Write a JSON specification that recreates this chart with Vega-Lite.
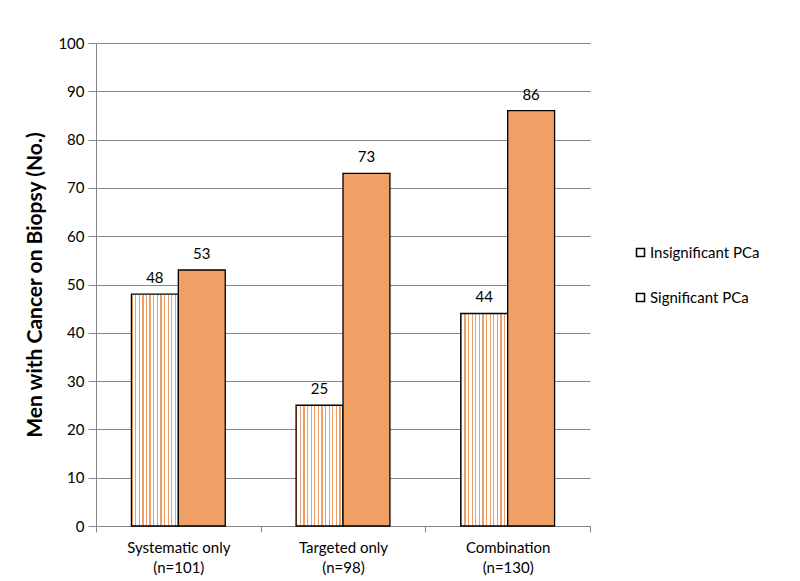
{
  "$schema": "https://vega.github.io/schema/vega-lite/v6.json",
  "width": 494,
  "height": 483,
  "autosize": "none",
  "padding": {"left": 96, "top": 43, "right": 210, "bottom": 55},
  "background": "white",
  "config": {
    "font": "Lato",
    "view": {"stroke": null}
  },
  "data": {
    "values": [
      {"cat": "Systematic only|(n=101)", "group": "Insignificant PCa", "n": 48},
      {"cat": "Systematic only|(n=101)", "group": "Significant PCa", "n": 53},
      {"cat": "Targeted only|(n=98)", "group": "Insignificant PCa", "n": 25},
      {"cat": "Targeted only|(n=98)", "group": "Significant PCa", "n": 73},
      {"cat": "Combination|(n=130)", "group": "Insignificant PCa", "n": 44},
      {"cat": "Combination|(n=130)", "group": "Significant PCa", "n": 86}
    ]
  },
  "encoding": {
    "x": {
      "field": "cat", "type": "nominal", "sort": null,
      "scale": {"paddingInner": 0, "paddingOuter": 0},
      "axis": {
        "title": null, "labelAngle": 0, "labelExpr": "split(datum.label, '|')",
        "labelFontSize": 15, "labelColor": "#000", "labelLineHeight": 20, "labelPadding": 8,
        "tickBand": "extent", "tickSize": 6, "tickColor": "#868686", "domainColor": "#868686",
        "grid": false
      }
    },
    "xOffset": {"field": "group", "type": "nominal", "scale": {"paddingOuter": 0.755, "paddingInner": 0}},
    "y": {
      "field": "n", "type": "quantitative",
      "scale": {"domain": [0, 100]},
      "axis": {
        "title": "Men with Cancer on Biopsy (No.)", "titleFontSize": 21, "titleFontWeight": "bold",
        "titleColor": "#000", "titlePadding": 12,
        "values": [0, 10, 20, 30, 40, 50, 60, 70, 80, 90, 100],
        "labelFontSize": 15, "labelColor": "#000", "labelPadding": 4,
        "tickSize": 8, "tickColor": "#868686", "domainColor": "#868686",
        "gridColor": "#868686", "gridWidth": 1
      }
    }
  },
  "layer": [
    {
      "mark": {"type": "bar", "strokeWidth": 1.3},
      "encoding": {
        "fill": {
          "condition": [
            {
              "test": "datum.group === 'Insignificant PCa'",
              "value": {
                "gradient": "linear", "x1": 0, "y1": 0, "x2": 1, "y2": 0,
                "stops": [
                  {"offset": 0, "color": "#EFA068"}, {"offset": 0.0269, "color": "#EFA068"}, {"offset": 0.0269, "color": "#FFFFFF"}, {"offset": 0.0769, "color": "#FFFFFF"},
                  {"offset": 0.0769, "color": "#EFA068"}, {"offset": 0.1038, "color": "#EFA068"}, {"offset": 0.1038, "color": "#FFFFFF"}, {"offset": 0.1538, "color": "#FFFFFF"},
                  {"offset": 0.1538, "color": "#EFA068"}, {"offset": 0.1808, "color": "#EFA068"}, {"offset": 0.1808, "color": "#FFFFFF"}, {"offset": 0.2308, "color": "#FFFFFF"},
                  {"offset": 0.2308, "color": "#EFA068"}, {"offset": 0.2577, "color": "#EFA068"}, {"offset": 0.2577, "color": "#FFFFFF"}, {"offset": 0.3077, "color": "#FFFFFF"},
                  {"offset": 0.3077, "color": "#EFA068"}, {"offset": 0.3346, "color": "#EFA068"}, {"offset": 0.3346, "color": "#FFFFFF"}, {"offset": 0.3846, "color": "#FFFFFF"},
                  {"offset": 0.3846, "color": "#EFA068"}, {"offset": 0.4115, "color": "#EFA068"}, {"offset": 0.4115, "color": "#FFFFFF"}, {"offset": 0.4615, "color": "#FFFFFF"},
                  {"offset": 0.4615, "color": "#EFA068"}, {"offset": 0.4885, "color": "#EFA068"}, {"offset": 0.4885, "color": "#FFFFFF"}, {"offset": 0.5385, "color": "#FFFFFF"},
                  {"offset": 0.5385, "color": "#EFA068"}, {"offset": 0.5654, "color": "#EFA068"}, {"offset": 0.5654, "color": "#FFFFFF"}, {"offset": 0.6154, "color": "#FFFFFF"},
                  {"offset": 0.6154, "color": "#EFA068"}, {"offset": 0.6423, "color": "#EFA068"}, {"offset": 0.6423, "color": "#FFFFFF"}, {"offset": 0.6923, "color": "#FFFFFF"},
                  {"offset": 0.6923, "color": "#EFA068"}, {"offset": 0.7192, "color": "#EFA068"}, {"offset": 0.7192, "color": "#FFFFFF"}, {"offset": 0.7692, "color": "#FFFFFF"},
                  {"offset": 0.7692, "color": "#EFA068"}, {"offset": 0.7962, "color": "#EFA068"}, {"offset": 0.7962, "color": "#FFFFFF"}, {"offset": 0.8462, "color": "#FFFFFF"},
                  {"offset": 0.8462, "color": "#EFA068"}, {"offset": 0.8731, "color": "#EFA068"}, {"offset": 0.8731, "color": "#FFFFFF"}, {"offset": 0.9231, "color": "#FFFFFF"},
                  {"offset": 0.9231, "color": "#EFA068"}, {"offset": 0.95, "color": "#EFA068"}, {"offset": 0.95, "color": "#FFFFFF"}, {"offset": 1, "color": "#FFFFFF"}
                ]
              }
            },
            {"test": "datum.group === 'Significant PCa'", "value": "#F0A064"}
          ],
          "value": "#FFFFFF"
        },
        "stroke": {
          "field": "group", "type": "nominal",
          "scale": {"domain": ["Insignificant PCa", "Significant PCa"], "range": ["#000000", "#000000"]},
          "legend": {
            "title": null, "orient": "none", "legendX": 537, "legendY": 202,
            "symbolType": "square", "symbolSize": 64, "symbolStrokeWidth": 1.5,
            "labelFontSize": 15, "labelColor": "#000", "labelOffset": 2, "rowPadding": 29
          }
        }
      }
    },
    {
      "mark": {"type": "text", "dy": -16, "fontSize": 15, "color": "#000"},
      "encoding": {"text": {"field": "n", "type": "quantitative"}}
    }
  ]
}
